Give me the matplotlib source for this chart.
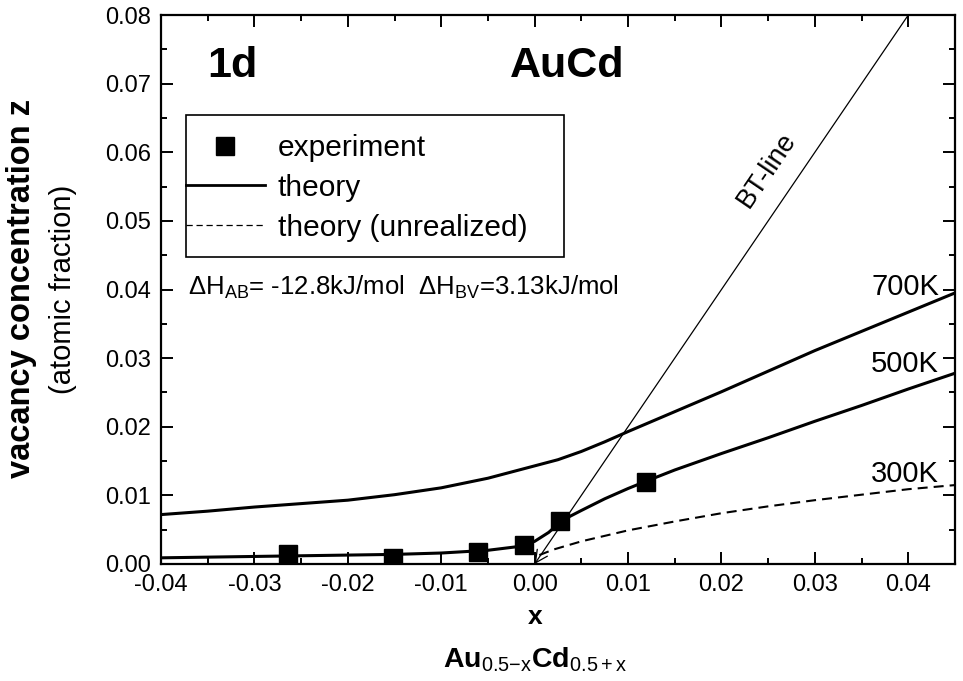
import numpy as np
import matplotlib
matplotlib.use("Agg")
import matplotlib.pyplot as plt
from matplotlib.lines import Line2D
from matplotlib.patches import Rectangle
from matplotlib.ticker import MultipleLocator, FormatStrFormatter

plt.rcParams['font.family'] = ['Liberation Sans', 'DejaVu Sans']
plt.rcParams['mathtext.fontset'] = 'custom'
plt.rcParams['mathtext.rm'] = 'Liberation Sans'
plt.rcParams['mathtext.bf'] = 'Liberation Sans:bold'
plt.rcParams['mathtext.it'] = 'Liberation Sans:italic'

# experiment points
exp_x = [-0.0264, -0.0152, -0.0061, -0.0011, 0.0027, 0.0119]
exp_z = [0.0015, 0.0009, 0.0018, 0.0027, 0.0062, 0.0120]

# theory, 700K
t700_x = [-0.04, -0.035, -0.03, -0.025, -0.02, -0.015, -0.01, -0.005, 0.0, 0.0025, 0.005,
          0.0075, 0.01, 0.015, 0.02, 0.025, 0.03, 0.035, 0.04, 0.045]
t700_z = [0.0072, 0.0077, 0.0083, 0.0088, 0.0093, 0.0101, 0.0111, 0.0125, 0.0143, 0.0152, 0.0164,
          0.0178, 0.0193, 0.0222, 0.0251, 0.0281, 0.0311, 0.0339, 0.0367, 0.0395]

# theory, 500K
t500_x = [-0.04, -0.035, -0.03, -0.025, -0.02, -0.015, -0.01, -0.005, -0.002, 0.0,
          0.0015, 0.003, 0.005, 0.0075, 0.01, 0.012, 0.015, 0.02, 0.025, 0.03,
          0.035, 0.04, 0.045]
t500_z = [0.0009, 0.0010, 0.0011, 0.0012, 0.0013, 0.0014, 0.0016, 0.0020, 0.0025, 0.0033,
          0.0046, 0.0064, 0.0078, 0.0095, 0.0110, 0.0121, 0.0137, 0.0161, 0.0184, 0.0208,
          0.0231, 0.0255, 0.0278]

# theory (unrealized), 300K
t300_x = [0.0005, 0.002, 0.005, 0.01, 0.015, 0.02, 0.025, 0.03, 0.035, 0.04, 0.045]
t300_z = [0.0013, 0.0021, 0.0033, 0.0049, 0.0062, 0.0074, 0.0084, 0.0093, 0.0101, 0.0109, 0.0115]

# BT-line
bt_x = [0.0, 0.04]
bt_z = [0.0, 0.08]

temp_labels = ["700K", "500K", "300K"]
temp_pos = [(0.0433, 0.0392), (0.0433, 0.0280), (0.0433, 0.0120)]

W, H = 963, 681
AX_L, AX_R, AX_T, AX_B = 161, 955, 15, 564
fig = plt.figure(figsize=(W / 100, H / 100), dpi=100)
ax = fig.add_axes([AX_L / W, 1 - AX_B / H, (AX_R - AX_L) / W, (AX_B - AX_T) / H])


def ax_frac(px, py):
    # pixel position in the image -> axes fraction
    return (px - AX_L) / (AX_R - AX_L), (AX_B - py) / (AX_B - AX_T)


ax.plot(t700_x, t700_z, color='black', lw=2.2)
ax.plot(t500_x, t500_z, color='black', lw=2.2)
ax.plot(t300_x, t300_z, color='black', lw=1.5, dashes=(4.8, 2.9))
ax.annotate("", xy=(bt_x[0], bt_z[0]), xytext=(bt_x[1], bt_z[1]),
            arrowprops=dict(arrowstyle="->", lw=0.9, color='black',
                            shrinkA=0, shrinkB=0, mutation_scale=22))
ax.plot(exp_x, exp_z, ls='none', marker='s', ms=13, color='black', zorder=5)

ax.set_xlim(-0.04, 0.045)
ax.set_ylim(0.0, 0.08)
ax.xaxis.set_major_locator(MultipleLocator(0.01))
ax.xaxis.set_minor_locator(MultipleLocator(0.005))
ax.yaxis.set_major_locator(MultipleLocator(0.01))
ax.yaxis.set_minor_locator(MultipleLocator(0.005))
ax.xaxis.set_major_formatter(FormatStrFormatter('%.2f'))
ax.yaxis.set_major_formatter(FormatStrFormatter('%.2f'))
ax.tick_params(which='both', direction='in', top=True, right=True, width=1.4,
               labelsize=17, colors='black')
ax.tick_params(which='major', length=8.5, pad=7)
ax.tick_params(which='minor', length=4.5)
for s in ax.spines.values():
    s.set_linewidth(1.6)

# axis-side labels
x_lbl_fx = 535 / W
fig.text(x_lbl_fx, 1 - 617 / H, "x", fontsize=19, fontweight='bold', ha='center', va='center')
fig.text(x_lbl_fx, 1 - 668 / H,
         r"$\mathbf{Au}_{\mathrm{0.5{-}x}}\mathbf{Cd}_{\mathrm{0.5+x}}$",
         fontsize=20.5, ha='center', va='baseline')
fig.text(22 / W, 1 - 289 / H, "vacancy concentration z", fontsize=23.5, fontweight='bold',
         rotation=90, ha='center', va='center')
fig.text(63 / W, 1 - 289 / H, "(atomic fraction)", fontsize=21,
         rotation=90, ha='center', va='center')

# annotations inside
ax.text(-0.0351, 0.0710, "1d", fontsize=31, fontweight='bold', ha='left', va='baseline')
ax.text(-0.0027, 0.0710, "AuCd", fontsize=31, fontweight='bold', ha='left', va='baseline')
ax.text(-0.0371, 0.0392, "ΔH$_{\\mathrm{AB}}$= -12.8kJ/mol  ΔH$_{\\mathrm{BV}}$=3.13kJ/mol",
        fontsize=18.5, ha='left', va='baseline')
for lbl, (tx, tz) in zip(temp_labels, temp_pos):
    ax.text(tx, tz, lbl, fontsize=21, ha='right', va='baseline')

bbox = ax.get_position()
sx = bbox.width * W / (0.045 + 0.04)
sy = bbox.height * H / 0.08
ang = np.degrees(np.arctan2((bt_z[1] - bt_z[0]) * sy, (bt_x[1] - bt_x[0]) * sx))
ax.text(0.0248, 0.0574, "BT-line", fontsize=19.5, rotation=ang, rotation_mode='anchor',
        ha='center', va='center')

# legend: frame drawn separately so the handles can touch its left edge
x0, y0 = ax_frac(186, 257)
x1, y1 = ax_frac(564, 115)
ax.add_patch(Rectangle((x0, y0), x1 - x0, y1 - y0, transform=ax.transAxes,
                       fill=False, edgecolor='black', lw=1.2, zorder=4))
handles = [Line2D([], [], ls='none', marker='s', ms=13, color='black'),
           Line2D([], [], color='black', lw=2.0),
           Line2D([], [], color='black', lw=0.9, dashes=(5, 3))]
ax.legend(handles, ["experiment", "theory", "theory (unrealized)"],
          loc='upper left', bbox_to_anchor=ax_frac(186, 134),
          fontsize=21.5, frameon=False, borderpad=0,
          handlelength=2.64, handletextpad=0.43, labelspacing=0.4,
          borderaxespad=0)

fig.savefig("out.png", dpi=100)
